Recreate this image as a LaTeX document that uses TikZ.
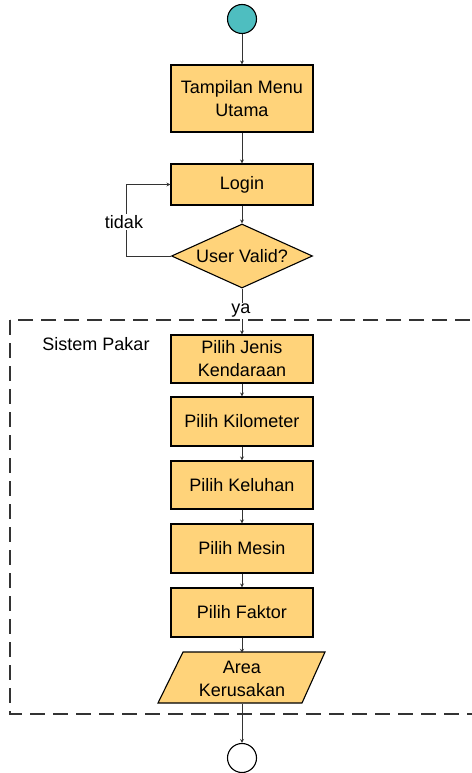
\documentclass[tikz,border=0pt]{standalone}
\usepackage{fontspec}
\setmainfont{Liberation Sans}
\usetikzlibrary{arrows.meta,shapes.geometric}
\definecolor{boxfill}{RGB}{255,211,122}
\definecolor{startfill}{RGB}{78,190,192}
\definecolor{linec}{RGB}{51,51,51}
\begin{document}
\begin{tikzpicture}[x=1pt,y=-1pt,
  font=\fontsize{18}{23}\selectfont,
  procbox/.style={draw=black, line width=1.1pt, fill=boxfill, minimum width=142pt, align=center, inner sep=0pt},
  conn/.style={draw=linec, line width=0.9pt, -{Stealth[length=4pt,width=4pt]}},
  lbl/.style={fill=white, inner sep=1pt, text=black}]
\useasboundingbox (0,0) rectangle (471,773);

% dashed frame
\draw[linec, line width=1.2pt, dash pattern=on 15pt off 8pt] (10,320) rectangle (490,714);

\node[circle, draw=black, line width=1.1pt, fill=startfill, minimum size=29pt, inner sep=0pt] (start) at (242,19) {};
\node[procbox, minimum height=67pt] (menu) at (242,98.5) {Tampilan Menu\\Utama};
\node[procbox, minimum height=41pt] (login) at (242,184.5) {Login};
\node[diamond, draw=black, line width=1.1pt, fill=boxfill, aspect=2.2, minimum width=141pt, minimum height=64pt, inner sep=0pt] (valid) at (242,256) {User Valid?};
\node[procbox, minimum height=48pt] (jenis) at (242,359) {Pilih Jenis\\Kendaraan};
\node[procbox, minimum height=49pt] (kilo) at (242,421.5) {Pilih Kilometer};
\node[procbox, minimum height=48pt] (keluhan) at (242,485) {Pilih Keluhan};
\node[procbox, minimum height=49pt] (mesin) at (242,548.5) {Pilih Mesin};
\node[procbox, minimum height=49pt] (faktor) at (242,612.5) {Pilih Faktor};
\filldraw[draw=black, line width=1.1pt, fill=boxfill] (183,652) -- (325,652) -- (302,703) -- (158,703) -- cycle;
\node[align=center, inner sep=0pt, minimum width=120pt, minimum height=51pt] (area) at (242,678.5) {Area\\Kerusakan};
\node[circle, draw=black, line width=1.1pt, fill=white, minimum size=29pt, inner sep=0pt] (stop) at (242,758) {};

\coordinate (loopc) at (126,256);

\draw[conn] (start) -- (menu);
\draw[conn] (menu) -- (login);
\draw[conn] (login) -- (valid);
\draw[conn] (valid.west) -- (loopc) |- (login.west);
\draw[conn] (valid.south) -- (jenis.north);
\draw[conn] (jenis) -- (kilo);
\draw[conn] (kilo) -- (keluhan);
\draw[conn] (keluhan) -- (mesin);
\draw[conn] (mesin) -- (faktor);
\draw[conn] (faktor.south) -- (area.north);
\draw[conn] (area.south) -- (stop.north);

\node[lbl] (tidak) at (124,222) {tidak};
\node[lbl] (ya) at (241,311) {ya};
\node[text=black] (sp) at (96,344) {Sistem Pakar};
\end{tikzpicture}
\end{document}
